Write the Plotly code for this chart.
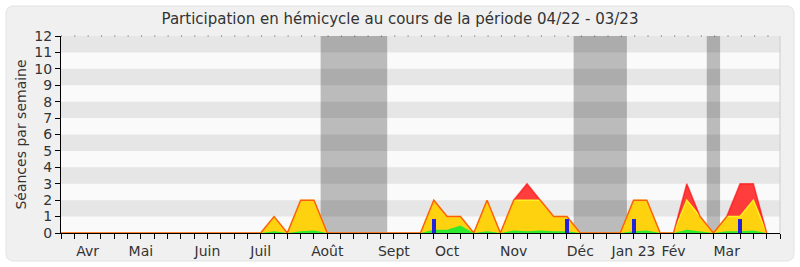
import plotly.graph_objects as go

# ---- data (weekly, week index 0..53, April 2022 -> March 2023) ----
weeks = list(range(54))
presences = [0,0,0,0,0,0,0,0,0,0, 0,0,0,0,0,0,1,0,2,2,
             0,0,0,0,0,0,0,0,2,1, 1,0,2,0,2,3,2,1,1,0,
             0,0,0,2,2,0,0,3,1,0, 1,3,3,0]
participations = [0,0,0,0,0,0,0,0,0,0, 0,0,0,0,0,0,1,0,2,2,
                  0,0,0,0,0,0,0,0,2,1, 1,0,2,0,2,2,2,1,1,0,
                  0,0,0,2,2,0,0,2,1,0, 1,1,2,0]
interventions = [0,0,0,0,0,0,0,0,0,0, 0,0,0,0,0,0,0.1,0,0.1,0.15,
                 0,0,0,0,0,0,0,0,0.2,0.2, 0.45,0,0.1,0,0.15,0.1,0.15,0.1,0.1,0,
                 0,0,0,0.1,0.15,0,0,0.2,0.1,0, 0.1,0.1,0.15,0]
questions = [0]*54
for w in (28, 38, 43, 51):
    questions[w] = 0.85

month_weeks = [2, 6, 11, 15, 20, 25, 29, 34, 39, 43, 46, 50]
month_labels = ["Avr", "Mai", "Juin", "Juil", "Août", "Sept", "Oct", "Nov",
                "Déc", "Jan 23", "Fév", "Mar"]
vacations = [(19.5, 24.5), (38.5, 42.5), (48.5, 49.5)]

FONT = "DejaVu Sans"

fig = go.Figure()
fig.add_trace(go.Scatter(x=weeks, y=presences, mode="lines", fill="tozeroy",
                         fillcolor="rgba(255,40,40,0.9)", line=dict(width=0),
                         hoverinfo="skip", showlegend=False))
fig.add_trace(go.Scatter(x=weeks, y=participations, mode="lines", fill="tozeroy",
                         fillcolor="#ffd20f", line=dict(color="#ffee22", width=1.5),
                         hoverinfo="skip", showlegend=False))
fig.add_trace(go.Scatter(x=weeks, y=presences, mode="lines",
                         line=dict(color="rgba(255,0,0,0.6)", width=1.5),
                         hoverinfo="skip", showlegend=False))
fig.add_trace(go.Scatter(x=weeks, y=interventions, mode="lines", fill="tozeroy",
                         fillcolor="#2eea2e", line=dict(width=0),
                         hoverinfo="skip", showlegend=False))
fig.add_trace(go.Bar(x=weeks, y=questions, width=0.3, marker=dict(color="#2222dd", line=dict(width=0)),
                     yaxis="y2", hoverinfo="skip", showlegend=False))

shapes = []
# rounded outer frame
pw, ph = 719.0, 197.0
def px(x):
    return (x - 61) / pw
def py(y):
    return (233 - y) / ph
x0, x1, y0, y1, r = 6, 794, 6, 261, 8
path = (f"M {px(x0+r)},{py(y0)} L {px(x1-r)},{py(y0)} Q {px(x1)},{py(y0)} {px(x1)},{py(y0+r)} "
        f"L {px(x1)},{py(y1-r)} Q {px(x1)},{py(y1)} {px(x1-r)},{py(y1)} "
        f"L {px(x0+r)},{py(y1)} Q {px(x0)},{py(y1)} {px(x0)},{py(y1-r)} "
        f"L {px(x0)},{py(y0+r)} Q {px(x0)},{py(y0)} {px(x0+r)},{py(y0)} Z")
shapes.append(dict(type="path", path=path, xref="paper", yref="paper",
                   fillcolor="#f0f0f0", line=dict(color="#e2e2e2", width=1), layer="below"))
# plot area background
shapes.append(dict(type="rect", xref="paper", yref="paper", x0=0, x1=1, y0=0, y1=1,
                   fillcolor="#fafafa", line=dict(width=0), layer="below"))
# horizontal stripes
for k in range(1, 12, 2):
    shapes.append(dict(type="rect", xref="paper", yref="y", x0=0, x1=1, y0=k, y1=k + 1,
                       fillcolor="#e6e6e6", line=dict(width=0), layer="below"))
# vacation bands
for a, b in vacations:
    shapes.append(dict(type="rect", xref="x", yref="paper", x0=a, x1=b, y0=0, y1=1,
                       fillcolor="rgba(0,0,0,0.25)", line=dict(width=0), layer="below"))
# dotted top line
shapes.append(dict(type="line", xref="paper", yref="paper", x0=0, x1=1, y0=1, y1=1,
                   line=dict(color="#555555", width=1, dash="1px,12.33px"), layer="above"))
# right border
shapes.append(dict(type="line", xref="paper", yref="paper", x0=1, x1=1, y0=0, y1=1,
                   line=dict(color="#cccccc", width=1), layer="above"))

tickvals = list(range(0, 55))
ticktext = [month_labels[month_weeks.index(w)] if w in month_weeks else "" for w in tickvals]

fig.update_layout(
    width=800, height=267,
    margin=dict(l=61, r=20, t=36, b=34),
    paper_bgcolor="white",
    plot_bgcolor="#fafafa",
    shapes=shapes,
    bargap=0,
    title=dict(text="Participation en hémicycle au cours de la période 04/22 - 03/23",
               x=0.5, xanchor="center", y=1 - 19 / 267, yanchor="middle", yref="container",
               font=dict(family=FONT, size=15, color="#333333")),
    xaxis=dict(range=[0, 54], tickvals=tickvals, ticktext=ticktext, ticks="outside",
               ticklen=5, tickcolor="#000000", showline=True, linecolor="#000000", linewidth=1,
               showgrid=False, zeroline=False, tickfont=dict(family=FONT, size=14, color="#333333"),
               automargin=False, fixedrange=True, layer="above traces"),
    yaxis=dict(range=[0, 12], dtick=1, ticks="outside", ticklen=5, tickcolor="#000000",
               showline=True, linecolor="#000000", linewidth=1, showgrid=False, zeroline=False,
               tickfont=dict(family=FONT, size=14, color="#333333"), automargin=False,
               layer="above traces",
               title=dict(text="Séances par semaine", font=dict(family=FONT, size=14, color="#333333"),
                          standoff=4)),
    yaxis2=dict(range=[0, 12], overlaying="y", visible=False),
)

fig.write_html("out.html")
